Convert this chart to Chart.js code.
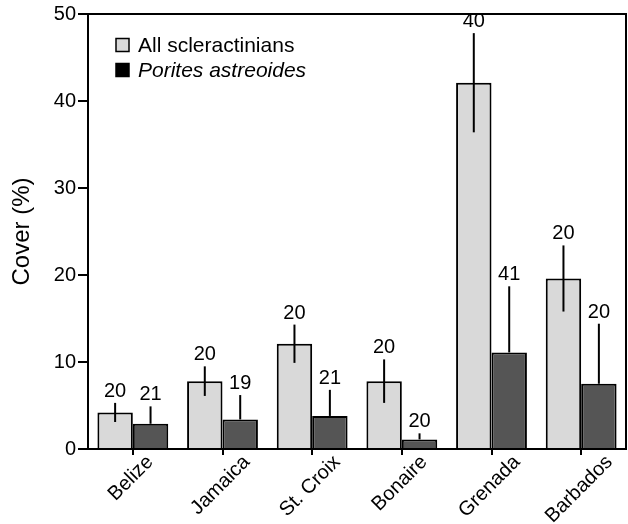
<!DOCTYPE html>
<html>
<head>
<meta charset="utf-8">
<script src="https://cdn.jsdelivr.net/npm/chart.js@4/dist/chart.umd.min.js"></script>
<style>
  html, body { margin: 0; padding: 0; background: #fff; }
  #wrap { width: 628px; height: 524px; }
</style>
</head>
<body>
<div id="wrap"><canvas id="chart" width="628" height="524"></canvas></div>
<script>
const sites = ["Belize", "Jamaica", "St. Croix", "Bonaire", "Grenada", "Barbados"];
const allCover = [4.2, 7.8, 12.1, 7.8, 42.1, 19.6];
const allErr = [1.1, 1.7, 2.2, 2.5, 5.7, 3.8];
const allN = [20, 20, 20, 20, 40, 20];
const poritesCover = [2.9, 3.4, 3.8, 1.1, 11.1, 7.5];
const poritesErr = [2.0, 2.8, 3.0, 0.7, 7.6, 6.9];
const poritesN = [21, 19, 21, 20, 41, 20];
const yTicks = [0, 10, 20, 30, 40, 50];

const FONT = "'Liberation Sans', Arial, Helvetica, sans-serif";

// error bars + sample sizes; dark bars only show the upper half
const errorBars = {
  id: "errorBars",
  afterDatasetsDraw(chart) {
    const ctx = chart.ctx;
    const y = chart.scales.y;
    const sets = [
      { err: allErr, n: allN, both: true },
      { err: poritesErr, n: poritesN, both: false },
    ];
    ctx.save();
    ctx.strokeStyle = "#000";
    ctx.lineWidth = 2;
    ctx.fillStyle = "#000";
    ctx.font = "20px " + FONT;
    ctx.textAlign = "center";
    ctx.textBaseline = "alphabetic";
    sets.forEach((s, i) => {
      const meta = chart.getDatasetMeta(i);
      const vals = chart.data.datasets[i].data;
      meta.data.forEach((bar, j) => {
        const top = y.getPixelForValue(vals[j] + s.err[j]);
        const bot = s.both ? y.getPixelForValue(vals[j] - s.err[j]) : bar.y;
        ctx.beginPath();
        ctx.moveTo(bar.x, top);
        ctx.lineTo(bar.x, bot);
        ctx.stroke();
        ctx.fillText(String(s.n[j]), bar.x, top - 6);
      });
    });
    ctx.restore();
  },
};

// slanted site names, centred under each tick
const siteLabels = {
  id: "siteLabels",
  afterDraw(chart) {
    const ctx = chart.ctx;
    const x = chart.scales.x;
    ctx.save();
    ctx.fillStyle = "#000";
    ctx.font = "20px " + FONT;
    ctx.textAlign = "center";
    ctx.textBaseline = "middle";
    x.ticks.forEach((t, i) => {
      const label = chart.data.labels[i];
      const w = ctx.measureText(label).width;
      const px = x.getPixelForTick(i) - 2;
      const py = x.top + 10 + w * 0.354;
      ctx.save();
      ctx.translate(px, py);
      ctx.rotate(-Math.PI / 4);
      ctx.fillText(label, 0, 0);
      ctx.restore();
    });
    ctx.restore();
  },
};

// box around the plot and the legend inside it
const frame = {
  id: "frame",
  afterDraw(chart) {
    const ctx = chart.ctx;
    const a = chart.chartArea;
    ctx.save();
    ctx.strokeStyle = "#000";
    ctx.lineWidth = 2;
    ctx.beginPath();
    ctx.moveTo(a.left, a.top);
    ctx.lineTo(a.right, a.top);
    ctx.lineTo(a.right, a.bottom);
    ctx.stroke();

    const items = [
      { text: "All scleractinians", fill: "#d9d9d9", italic: false },
      { text: "Porites astreoides", fill: "#000", italic: true },
    ];
    ctx.lineWidth = 1.5;
    ctx.textBaseline = "middle";
    ctx.textAlign = "left";
    items.forEach((it, k) => {
      const cy = 45 + k * 25;
      ctx.fillStyle = it.fill;
      ctx.fillRect(116, cy - 6.5, 13, 13);
      ctx.strokeRect(116, cy - 6.5, 13, 13);
      ctx.fillStyle = "#000";
      ctx.font = (it.italic ? "italic " : "") + "21px " + FONT;
      ctx.fillText(it.text, 138, cy + 1);
    });
    ctx.restore();
  },
};

const data = {
  labels: sites,
  datasets: [
    {
      label: "All scleractinians",
      data: allCover,
      backgroundColor: "#d9d9d9",
      borderColor: "#000",
      borderWidth: 2,
      borderSkipped: "bottom",
    },
    {
      label: "Porites astreoides",
      data: poritesCover,
      backgroundColor: "#555555",
      borderColor: "#000",
      borderWidth: 2,
      borderSkipped: "bottom",
    },
  ],
};

const options = {
  responsive: false,
  animation: false,
  layout: { padding: { left: 0, right: 2, top: 13, bottom: 0 } },
  datasets: { bar: { categoryPercentage: 0.79, barPercentage: 1 } },
  plugins: { legend: { display: false }, tooltip: { enabled: false } },
  scales: {
    x: {
      offset: true,
      grid: { offset: false, drawOnChartArea: false, drawTicks: true, tickLength: 6, color: "#000", lineWidth: 2 },
      border: { display: true, color: "#000", width: 2 },
      ticks: { display: false, autoSkip: false },
      afterFit(scale) { scale.height = 75; },
    },
    y: {
      min: 0,
      max: 50,
      afterBuildTicks(scale) { scale.ticks = yTicks.map((v) => ({ value: v })); },
      grid: { drawOnChartArea: false, drawTicks: true, tickLength: 10, color: "#000", lineWidth: 2 },
      border: { display: true, color: "#000", width: 2 },
      ticks: { color: "#000", font: { family: FONT, size: 20 }, padding: 2 },
      title: {
        display: true,
        text: "Cover (%)",
        color: "#000",
        font: { family: FONT, size: 24 },
        padding: { top: 8, bottom: 0 },
      },
      afterFit(scale) { scale.width = 88; },
    },
  },
};

const chart = new Chart(document.getElementById("chart"), {
  type: "bar",
  data: data,
  options: options,
  plugins: [errorBars, siteLabels, frame],
});
</script>
</body>
</html>
